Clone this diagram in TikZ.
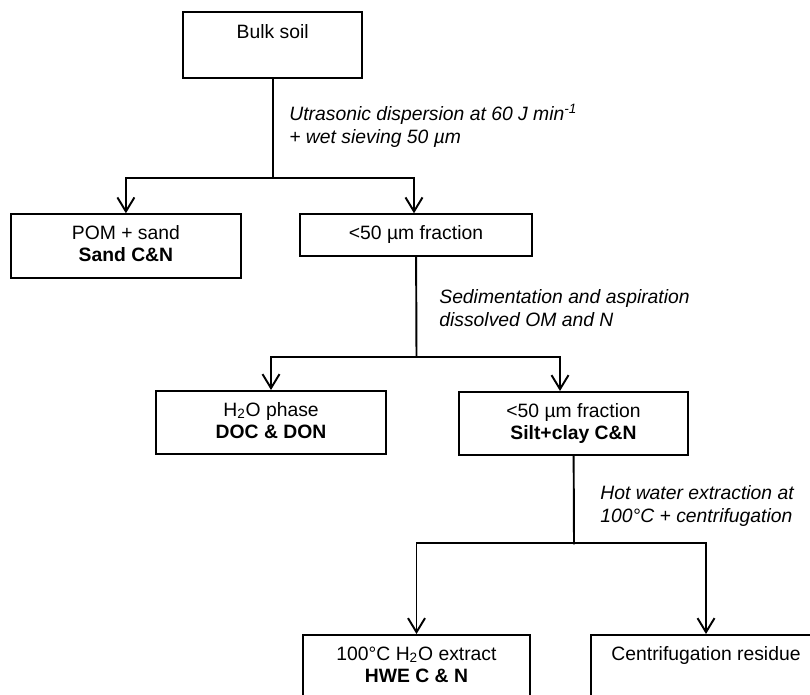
\documentclass[tikz,border=0pt]{standalone}
\usepackage{fontspec}
\setmainfont{Liberation Sans}
\usetikzlibrary{arrows.meta}
\tikzstyle{block} = [rectangle, draw, line width=1.2pt, align=center, anchor=north,
    inner xsep=0pt, inner ysep=5.5pt, font=\fontsize{11}{12.5}\selectfont]
\tikzstyle{info} = [anchor=north west, inner sep=0pt, align=left,
    font=\fontsize{11}{13}\selectfont\itshape]
\tikzstyle{line} = [draw, line width=1.1pt, -{Straight Barb[length=0.28cm, width=0.34cm]}]
\tikzstyle{wire} = [draw, line width=1.1pt, line cap=rect]

\begin{document}
\begin{tikzpicture}[x=0.02cm, y=-0.02cm]
        \path [use as bounding box] (0,0) rectangle (810,695);
        \clip (0,0) rectangle (810,695);
        % Place nodes
        \node [block, minimum width=3.58cm, minimum height=1.32cm] (bulk) at (272.7,11) {\strut Bulk soil\\\strut};
        \node [block, minimum width=4.59cm] (pom) at (125.9,213.3) {\strut POM + sand\\\strut\textbf{Sand C\&N}};
        \node [block, minimum width=4.64cm] (frac) at (416,213.3) {\strut <50 µm fraction};
        \node [block, minimum width=4.6cm] (water) at (271,390) {\strut H\textsubscript{2}O phase\\\strut\textbf{DOC \& DON}};
        \node [block, minimum width=4.58cm] (silt) at (573.5,391) {\strut <50 µm fraction\\\strut\textbf{Silt+clay C\&N}};
        \node [block, minimum width=4.54cm] (hwe) at (416.5,634) {\strut 100°C H\textsubscript{2}O extract\\\strut\textbf{HWE C \& N}};
        \node [block, minimum width=4.6cm] (residue) at (706,634) {\strut Centrifugation residue\\\strut};
        % Info nodes
        \node [info] (sonic_info) at (289,104) {
            \strut Utrasonic dispersion at 60 J min\textsuperscript{-1}\\
            \strut + wet sieving 50 µm
        };
        \node [info] (sedim_info) at (439,287) {
            \strut Sedimentation and aspiration\\
            \strut dissolved OM and N
        };
        \node [info] (hot_info) at (600,483.3) {
            \strut Hot water extraction at\\
            \strut 100°C + centrifugation
        };
        % Split points
        \coordinate (split1) at (272.7,178.3);
        \coordinate (split2) at (416.5,357);
        \coordinate (split3) at (574,543.3);
        % Draw edges
        \path [wire] (bulk) -- (split1);
        \path [line] (split1) -| (pom);
        \path [line] (split1) -| ([xshift=-0.04cm]frac.north);
        \path [wire] (frac) -- (split2);
        \path [line] (split2) -| (water);
        \path [line] (split2) -| ([xshift=-0.27cm]silt.north);
        \path [wire] (silt) -- (split3);
        \path [line] (split3) -| (hwe);
        \path [line] (split3) -| (residue);
    \end{tikzpicture}
\end{document}
